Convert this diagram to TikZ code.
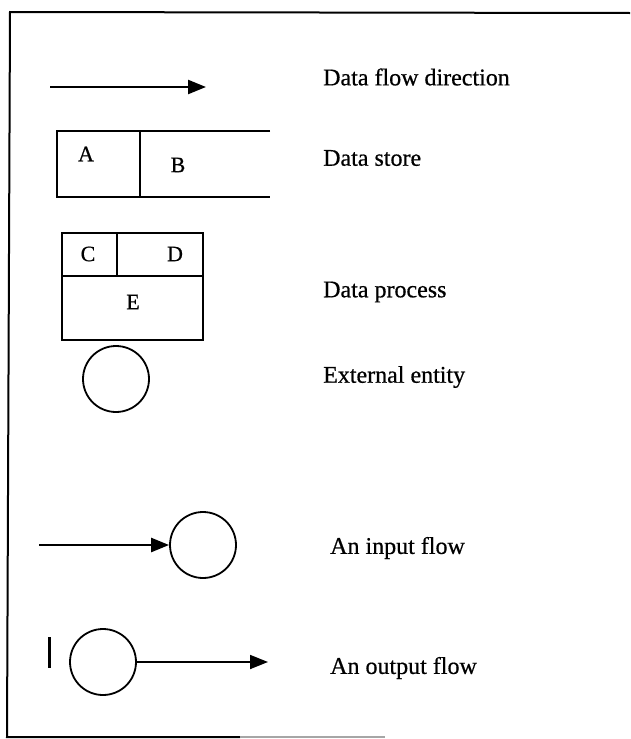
\documentclass[tikz,border=0pt]{standalone}
\usepackage{fontspec}
\setmainfont{Liberation Serif}
\newfontfamily\legfont{Liberation Serif}[FakeBold=0.6]
\usetikzlibrary{arrows.meta}
\begin{document}
\begin{tikzpicture}[x=1pt,y=-1pt,
  frame/.style={line width=2pt},
  shapeline/.style={line width=2pt},
  flow/.style={line width=2.4pt,-{Triangle[length=18pt,width=14pt]}},
  entity/.style={circle,draw,line width=1.8pt,minimum size=66pt,inner sep=0pt},
  legend/.style={anchor=west,inner sep=0pt,font=\legfont\fontsize{24}{28}\selectfont},
  letter/.style={inner sep=0pt,font=\legfont\fontsize{22}{26}\selectfont}]
\useasboundingbox (0,0) rectangle (630,739);
\fill[white] (0,0) rectangle (630,739);

% outer frame (open on the right)
\draw[frame] (630,13) -- (10,12) -- (7,737) -- (240,737);
\draw[line width=1.5pt,black!35] (240,737) -- (385,737);

% data flow direction
\coordinate (f1s) at (50,87);
\coordinate (f1e) at (206,87);
\draw[flow] (f1s) -- (f1e);
\node[legend] (t1) at (323,77) {Data flow direction};

% data store
\draw[shapeline] (270,131) -- (57,131) -- (57,197) -- (270,197);
\draw[shapeline] (140,131) -- (140,197);
\node[letter] (a) at (86,154) {A};
\node[letter] (b) at (178,165) {B};
\node[legend] (t2) at (323,158) {Data store};

% data process
\draw[shapeline] (62,233) rectangle (203,340);
\draw[shapeline] (62,276) -- (203,276);
\draw[shapeline] (117,233) -- (117,276);
\node[letter] (c) at (88,254) {C};
\node[letter] (d) at (175,254) {D};
\node[letter] (e) at (133,302) {E};
\node[legend] (t3) at (323,292) {Data process};

% external entity
\node[entity] (x1) at (116,379) {};
\node[legend] (t4) at (323,377) {External entity};

% input flow
\node[entity] (x2) at (203,545) {};
\coordinate (f2s) at (39,545);
\draw[flow] (f2s) -- (x2.west);
\node[legend] (t5) at (330,548) {An input flow};

% output flow
\draw[line width=3pt] (49,637) -- (49,668);
\node[entity] (x3) at (103,662) {};
\coordinate (f3e) at (268,662);
\draw[flow,line width=1.8pt] (x3.east) -- (f3e);
\node[legend] (t6) at (330,668) {An output flow};
\end{tikzpicture}
\end{document}
